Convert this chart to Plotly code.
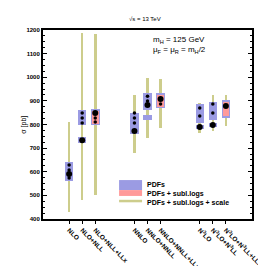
import plotly.graph_objects as go

# ---- data ----
labels = ["NLO", "NLO+NLL", "NLO+NLL+LLx",
          "NNLO", "NNLO+NNLL", "NNLO+NNLL+LLx",
          "N<sup>3</sup>LO", "N<sup>3</sup>LO+N<sup>3</sup>LL", "N<sup>3</sup>LO+N<sup>3</sup>LL+LLx"]
xpos = [0, 1, 2, 5, 6, 7, 10, 11, 12]

central = [590, 733, 849, 772, 883, 908, 789, 798, 878]

scale_lo = [430, 480, 502, 679, 743, 785, 764, 772, 794]
scale_hi = [810, 1187, 1183, 925, 997, 993, 891, 925, 925]

pdf_lo = [561, 798, 798, 760, 861, 870, 806, 819, 828]
pdf_hi = [641, 861, 866, 849, 933, 933, 887, 895, 904]

# secondary PDF boxes (overlaid results)
pdf2_x = [1, 6, 10, 11]
pdf2_lo = [722, 818, 780, 788]
pdf2_hi = [745, 840, 798, 808]

# subleading logs (resummed + LLx only)
sub_x = [2, 7, 12]
sub_lo = [802, 874, 836]
sub_hi = [857, 925, 895]

# extra (overlaid) central values
extra_x = [0, 0, 0, 1, 1, 1, 2, 2, 5, 5, 5, 6, 6, 7, 10, 10, 11, 11]
extra_y = [629, 607, 574, 849, 828, 806, 828, 811, 849, 828, 806, 920, 900, 887, 870, 836, 887, 849]

YELLOW = "#cdcd8c"
BLUE = "#9b9be3"
RED = "#ff9a9a"
FONT = "Liberation Sans"

fig = go.Figure()

fig.add_trace(go.Bar(x=xpos, y=[h - l for h, l in zip(scale_hi, scale_lo)], base=scale_lo,
                     width=0.2, marker=dict(color=YELLOW, line=dict(width=0)), showlegend=False))
fig.add_trace(go.Bar(x=xpos, y=[h - l for h, l in zip(pdf_hi, pdf_lo)], base=pdf_lo,
                     width=0.65, marker=dict(color=BLUE, line=dict(width=0)), showlegend=False))
fig.add_trace(go.Bar(x=pdf2_x, y=[h - l for h, l in zip(pdf2_hi, pdf2_lo)], base=pdf2_lo,
                     width=0.65, marker=dict(color=BLUE, line=dict(width=0)), showlegend=False))
fig.add_trace(go.Bar(x=sub_x, y=[h - l for h, l in zip(sub_hi, sub_lo)], base=sub_lo,
                     width=0.5, marker=dict(color=RED, line=dict(width=0)), showlegend=False))
fig.add_trace(go.Scatter(x=extra_x, y=extra_y, mode="markers",
                         marker=dict(color="black", size=3.5), showlegend=False))
fig.add_trace(go.Scatter(x=xpos, y=central, mode="markers",
                         marker=dict(color="black", size=6), showlegend=False))

# manual legend (paper coords)
fig.add_shape(type="rect", xref="paper", yref="paper", x0=0.364, x1=0.474, y0=0.153, y1=0.206,
              fillcolor=BLUE, line=dict(width=0))
fig.add_shape(type="rect", xref="paper", yref="paper", x0=0.364, x1=0.474, y0=0.122, y1=0.153,
              fillcolor=RED, line=dict(width=0))
fig.add_shape(type="line", xref="paper", yref="paper", x0=0.364, x1=0.474, y0=0.095, y1=0.095,
              line=dict(color=YELLOW, width=2.5))
leg_texts = ["PDFs", "PDFs + subl.logs", "PDFs + subl.logs + scale"]
leg_y = [0.185, 0.132, 0.085]
for t, yy in zip(leg_texts, leg_y):
    fig.add_annotation(text=t, xref="paper", yref="paper", x=0.488, y=yy, xanchor="left",
                       yanchor="middle", showarrow=False,
                       font=dict(size=7, color="black", family=FONT, weight="bold"))

fig.add_annotation(text="m<sub>H</sub> = 125 GeV", xref="paper", yref="paper", x=0.515, y=0.945,
                   xanchor="left", yanchor="middle", showarrow=False,
                   font=dict(size=8, color="black", family=FONT))
fig.add_annotation(text="μ<sub>F</sub> = μ<sub>R</sub> = m<sub>H</sub>/2", xref="paper", yref="paper",
                   x=0.515, y=0.895, xanchor="left", yanchor="middle", showarrow=False,
                   font=dict(size=8, color="black", family=FONT))
fig.add_annotation(text="√s = 13 TeV", xref="paper", yref="paper", x=0.49, y=1.058,
                   xanchor="center", yanchor="middle", showarrow=False,
                   font=dict(size=6, color="black", family=FONT))
fig.add_annotation(text="σ [pb]", xref="paper", yref="paper", x=-0.095, y=0.5,
                   xanchor="center", yanchor="middle", showarrow=False, textangle=-90,
                   font=dict(size=7, color="black", family=FONT))

fig.update_layout(
    width=266, height=266,
    margin=dict(l=35, r=22, t=22, b=55),
    paper_bgcolor="white", plot_bgcolor="white",
    barmode="overlay", bargap=0,
    font=dict(family=FONT, color="black"),
    xaxis=dict(range=[-2, 14], tickmode="array", tickvals=xpos, ticktext=labels,
               tickangle=45, ticks="outside", ticklen=3, tickwidth=1, tickcolor="black",
               showline=True, linecolor="black", linewidth=2, mirror=True,
               showgrid=False, zeroline=False, automargin=False,
               tickfont=dict(size=6.5, family=FONT, weight="bold")),
    yaxis=dict(range=[400, 1200], dtick=100, ticks="inside", ticklen=4, tickwidth=1,
               tickcolor="black", showline=True, linecolor="black", linewidth=2,
               mirror="ticks", showgrid=False, zeroline=False, automargin=False,
               minor=dict(dtick=25, ticks="inside", ticklen=2, tickcolor="black"),
               tickfont=dict(size=6, family=FONT, weight="bold")),
)

fig.write_html("out.html")
